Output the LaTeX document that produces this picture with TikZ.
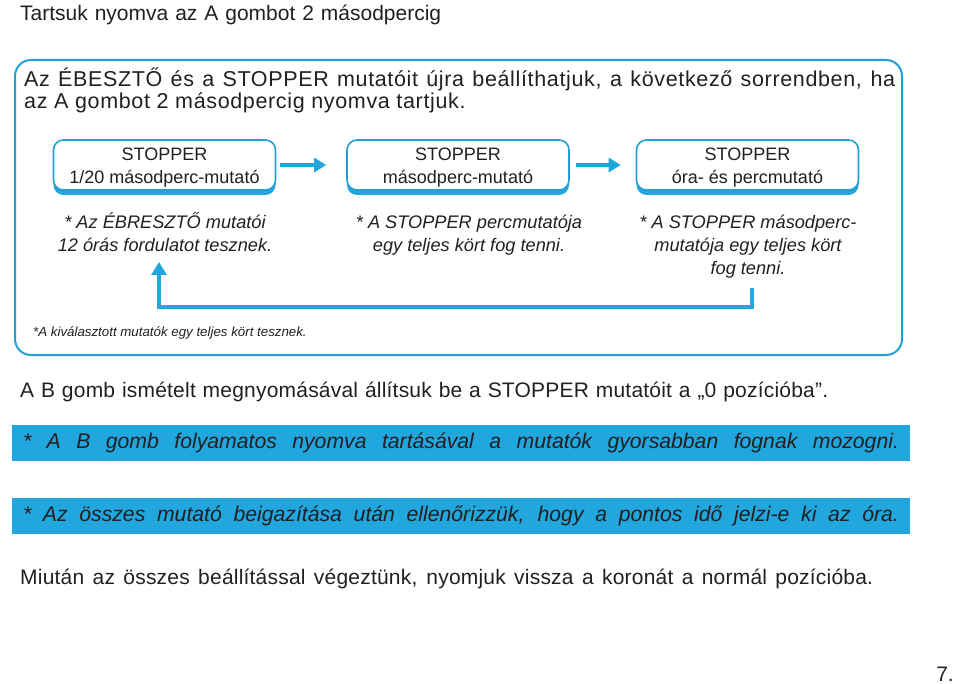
\documentclass[tikz,border=0pt]{standalone}
\usepackage{fontspec}
\setmainfont{Liberation Sans}
\newfontfamily\trackA[LetterSpace=3]{Liberation Sans}
\newfontfamily\trackB[LetterSpace=1]{Liberation Sans}
\usetikzlibrary{arrows.meta,shadows}
\definecolor{cy}{RGB}{34,166,222}
\definecolor{cyb}{RGB}{38,160,212}
\definecolor{ink}{RGB}{35,31,32}
\newcommand{\fitto}[2]{\makebox[#1][s]{#2}}
\begin{document}
\begin{tikzpicture}[x=1pt,y=-1pt,
  every node/.style={inner sep=0pt, text=ink},
  txt/.style={anchor=base west},
  frame/.style={draw=cyb, line width=2pt, rounded corners=16pt, minimum width=887pt, minimum height=295pt},
  sbox/.style={draw=cyb, line width=1.6pt, fill=white, rounded corners=10pt,
    minimum width=222pt, minimum height=50pt, align=center,
    font=\fontsize{18}{23}\selectfont,
    drop shadow={shadow xshift=0pt, shadow yshift=-5pt, fill=cy, opacity=1}},
  desc/.style={anchor=base, font=\itshape\fontsize{18.2}{23}\selectfont},
  arr/.style={draw=cy, line width=3.5pt, -{Triangle[length=12pt,width=14pt]}},
  fbk/.style={draw=cy, line width=4pt, line join=miter, -{Triangle[length=13pt,width=15pt]}},
  bar/.style={fill=cy, minimum width=898pt, minimum height=36pt,
    font=\itshape\fontsize{21.2}{24}\selectfont}
]
\useasboundingbox (0,0) rectangle (960,684);

\node[txt, font=\fontsize{21}{24}\selectfont] (title) at (20,21)
  {\fitto{421pt}{Tartsuk nyomva az A gombot 2 másodpercig}};

\node[frame] (frame) at (458.5,207.5) {};

\node[txt, font=\trackA\fontsize{21.5}{24}\selectfont] (m1) at (24,87)
  {\fitto{871pt}{Az ÉBESZTŐ és a STOPPER mutatóit újra beállíthatjuk, a következő sorrendben, ha}};
\node[txt, font=\trackA\fontsize{21.5}{24}\selectfont] (m2) at (24,109)
  {az A gombot 2 másodpercig nyomva tartjuk.};

\node[sbox] (b1) at (164.5,165) {\rule{0pt}{18pt}STOPPER\\1/20 másodperc-mutató};
\node[sbox] (b2) at (458,165) {\rule{0pt}{18pt}STOPPER\\másodperc-mutató};
\node[sbox] (b3) at (747.5,165) {\rule{0pt}{18pt}STOPPER\\óra- és percmutató};

\draw[arr, shorten <=4pt, shorten >=20pt] (b1.east) -- (b2.west);
\draw[arr, shorten <=6pt, shorten >=15pt] (b2.east) -- (b3.west);

\node[desc] (d1a) at (165,229) {* Az ÉBRESZTŐ mutatói};
\node[desc] (d1b) at (165,252) {12 órás fordulatot tesznek.};
\node[desc] (d2a) at (469,229) {* A STOPPER percmutatója};
\node[desc] (d2b) at (469,252) {egy teljes kört fog tenni.};
\node[desc] (d3a) at (748,229) {* A STOPPER másodperc-};
\node[desc] (d3b) at (748,252) {mutatója egy teljes kört};
\node[desc] (d3c) at (748,275) {fog tenni.};

\coordinate (fs) at (752,288);
\coordinate (fm) at (455,307);
\coordinate (fe) at (159,262);
\draw[fbk] (fs) |- (fm) -| (fe);

\node[txt, font=\itshape\fontsize{13.3}{15}\selectfont] (fn) at (33,336)
  {*A kiválasztott mutatók egy teljes kört tesznek.};

\node[txt, font=\trackB\fontsize{21}{24}\selectfont] (l1) at (20,397)
  {\fitto{808pt}{A B gomb ismételt megnyomásával állítsuk be a STOPPER mutatóit a „0 pozícióba”.}};

\node[bar] (bar1) at (461,443)
  {\fitto{876pt}{* A B gomb folyamatos nyomva tartásával a mutatók gyorsabban fognak mozogni.}};
\node[bar] (bar2) at (461,515.5)
  {\fitto{876pt}{* Az összes mutató beigazítása után ellenőrizzük, hogy a pontos idő jelzi-e ki az óra.}};

\node[txt, font=\trackB\fontsize{21}{24}\selectfont] (l2) at (20,584)
  {\fitto{853pt}{Miután az összes beállítással végeztünk, nyomjuk vissza a koronát a normál pozícióba.}};

\node[anchor=base east, font=\fontsize{21}{24}\selectfont] (pg) at (954,681) {7.};
\end{tikzpicture}
\end{document}
